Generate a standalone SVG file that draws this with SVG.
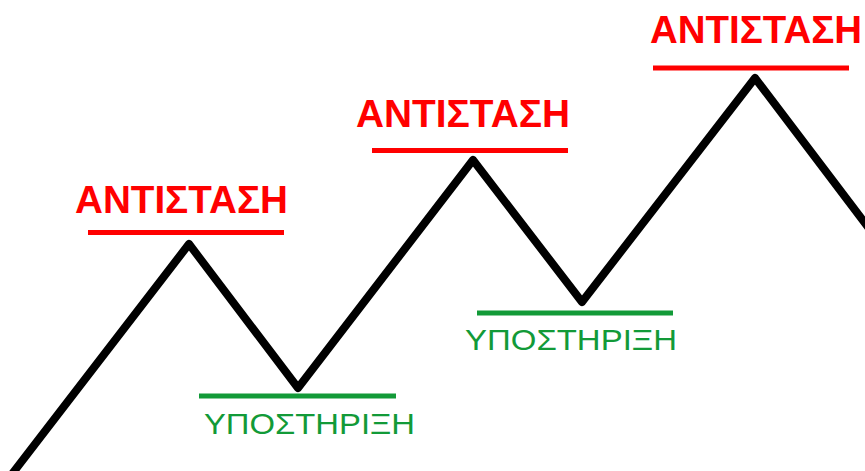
<svg xmlns="http://www.w3.org/2000/svg" width="865" height="471" viewBox="0 0 865 471">
  <style>
    .res { font-family: "Liberation Sans", Arial, sans-serif; font-weight: bold; font-size: 38px; fill: #ff0000; }
    .sup { font-family: "Liberation Sans", Arial, sans-serif; font-size: 30px; fill: #129a38; }
    .rline { stroke: #ff0000; stroke-width: 5; }
    .gline { stroke: #129a38; stroke-width: 5; }
    .zig { fill: none; stroke: #000; stroke-width: 8; stroke-linejoin: round; stroke-linecap: round; }
  </style>
  <rect width="865" height="471" fill="#fff"/>
  <g id="connectors">
    <polyline class="zig" points="12,474 189,244 298,388 473,160 582,302 755,78 871,231"/>
  </g>
  <g id="resistance1">
    <text class="res" x="75" y="213" textLength="213" lengthAdjust="spacingAndGlyphs">ΑΝΤΙΣΤΑΣΗ</text>
    <line class="rline" x1="88" y1="232.5" x2="284" y2="232.5"/>
  </g>
  <g id="resistance2">
    <text class="res" x="356" y="127" textLength="214" lengthAdjust="spacingAndGlyphs">ΑΝΤΙΣΤΑΣΗ</text>
    <line class="rline" x1="372" y1="150.5" x2="568" y2="150.5"/>
  </g>
  <g id="resistance3">
    <text class="res" x="650" y="43" textLength="212" lengthAdjust="spacingAndGlyphs">ΑΝΤΙΣΤΑΣΗ</text>
    <line class="rline" x1="653" y1="68" x2="849" y2="68"/>
  </g>
  <g id="support1">
    <line class="gline" x1="199" y1="396" x2="396" y2="396"/>
    <text class="sup" x="204" y="434" textLength="211" lengthAdjust="spacingAndGlyphs">ΥΠΟΣΤΗΡΙΞΗ</text>
  </g>
  <g id="support2">
    <line class="gline" x1="477" y1="313" x2="673" y2="313"/>
    <text class="sup" x="465" y="350" textLength="212" lengthAdjust="spacingAndGlyphs">ΥΠΟΣΤΗΡΙΞΗ</text>
  </g>
</svg>
